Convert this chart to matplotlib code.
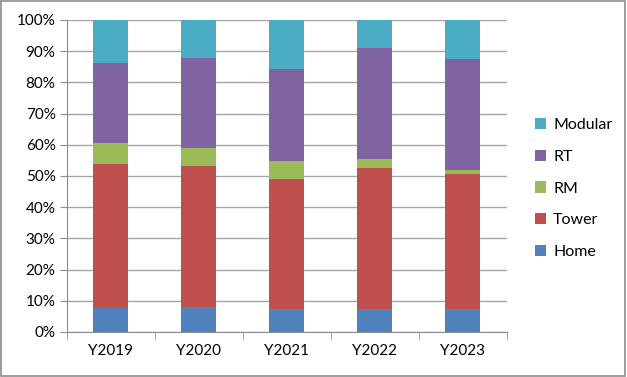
import matplotlib.pyplot as plt
from matplotlib.patches import Rectangle
import numpy as np

jahre = ["Y2019", "Y2020", "Y2021", "Y2022", "Y2023"]
home = [7.8, 8.0, 7.5, 7.5, 7.3]
tower = [45.9, 45.3, 41.6, 44.9, 43.3]
rm = [6.8, 5.8, 5.7, 2.9, 1.3]
rt = [25.8, 28.8, 29.4, 35.6, 35.5]
modular = [13.7, 12.1, 15.8, 9.1, 12.6]

serien = [("Home", home, "#4F81BD"), ("Tower", tower, "#C0504D"),
          ("RM", rm, "#9BBB59"), ("RT", rt, "#8064A2"),
          ("Modular", modular, "#4BACC6")]

plt.rcParams['font.family'] = ['Lato', 'DejaVu Sans']

fig = plt.figure(figsize=(6.27, 3.77), dpi=100)
fig.patches.append(Rectangle((0.002, 0.003), 0.995, 0.994, transform=fig.transFigure,
                             fill=False, edgecolor="#8c8c8c", linewidth=1.2))
ax = fig.add_axes([0.1064, 0.1194, 0.7016, 0.8276])

x = np.arange(len(jahre))
summe = np.sum([s[1] for s in serien], axis=0)
unten = np.zeros(len(jahre))
handles = []
for name, werte, farbe in serien:
    anteil = np.array(werte) / summe * 100
    b = ax.bar(x, anteil, 0.4, bottom=unten, color=farbe, label=name, zorder=3)
    handles.append(b)
    unten += anteil

ax.set_xlim(-0.5, 4.5)
ax.set_ylim(0, 100)
ax.set_yticks(range(0, 101, 10))
ax.set_yticklabels([f"{v}%" for v in range(0, 101, 10)], fontsize=11)
ax.set_xticks(x)
ax.set_xticklabels(jahre, fontsize=11)
ax.set_xticks(np.arange(-0.5, 5, 1), minor=True)
ax.tick_params(axis="x", which="major", length=0, pad=9)
ax.tick_params(axis="x", which="minor", length=5, color="#8c8c8c", direction="out")
ax.tick_params(axis="y", length=5, color="#8c8c8c", direction="out", pad=3)
ax.grid(axis="y", color="#a6a6a6", linewidth=1, zorder=0)
for s in ["top", "right"]:
    ax.spines[s].set_visible(False)
for s in ["left", "bottom"]:
    ax.spines[s].set_color("#8c8c8c")

fig.legend(handles[::-1], [s[0] for s in serien][::-1], loc="center left",
           bbox_to_anchor=(0.83, 0.50), frameon=False, fontsize=11.5,
           handlelength=0.7, handleheight=0.7, labelspacing=1.1, handletextpad=0.45)

fig.savefig("out.png", dpi=100)
